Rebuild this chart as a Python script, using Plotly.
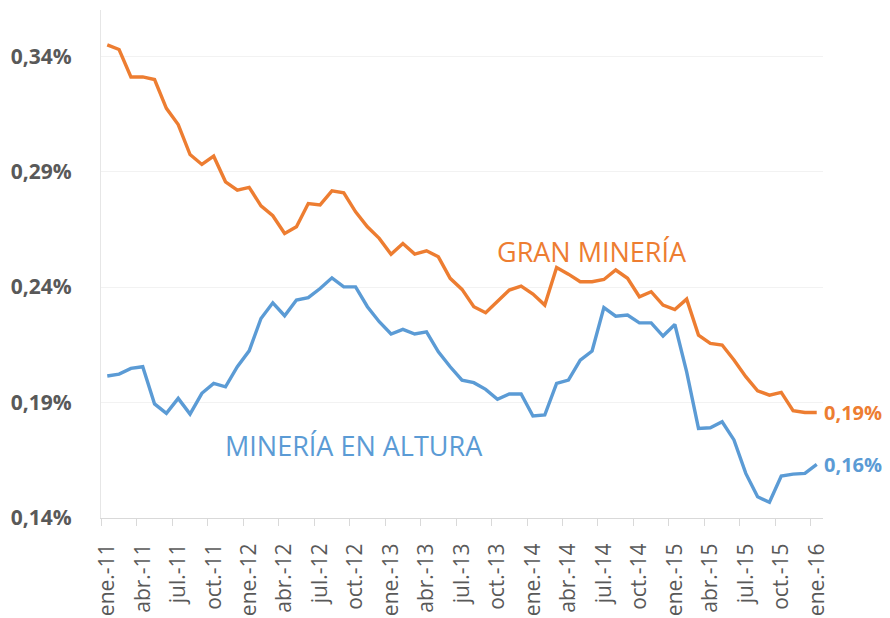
import plotly.graph_objects as go

months = ["ene.-11","feb.-11","mar.-11","abr.-11","may.-11","jun.-11","jul.-11","ago.-11","sep.-11","oct.-11","nov.-11","dic.-11",
          "ene.-12","feb.-12","mar.-12","abr.-12","may.-12","jun.-12","jul.-12","ago.-12","sep.-12","oct.-12","nov.-12","dic.-12",
          "ene.-13","feb.-13","mar.-13","abr.-13","may.-13","jun.-13","jul.-13","ago.-13","sep.-13","oct.-13","nov.-13","dic.-13",
          "ene.-14","feb.-14","mar.-14","abr.-14","may.-14","jun.-14","jul.-14","ago.-14","sep.-14","oct.-14","nov.-14","dic.-14",
          "ene.-15","feb.-15","mar.-15","abr.-15","may.-15","jun.-15","jul.-15","ago.-15","sep.-15","oct.-15","nov.-15","dic.-15",
          "ene.-16"]

gran_mineria = [0.3449, 0.3429, 0.3310, 0.3310, 0.3299, 0.3174, 0.3104, 0.2974, 0.2931, 0.2967, 0.2856, 0.2820,
                0.2832, 0.2752, 0.2709, 0.2632, 0.2661, 0.2762, 0.2756, 0.2817, 0.2808, 0.2726, 0.2661, 0.2611,
                0.2542, 0.2589, 0.2543, 0.2557, 0.2531, 0.2438, 0.2390, 0.2315, 0.2289, 0.2336, 0.2387, 0.2404,
                0.2370, 0.2322, 0.2485, 0.2456, 0.2423, 0.2423, 0.2433, 0.2474, 0.2438, 0.2358, 0.2380, 0.2322,
                0.2303, 0.2348, 0.2192, 0.2156, 0.2149, 0.2084, 0.2012, 0.1951, 0.1932, 0.1944, 0.1865, 0.1857,
                0.1857]

mineria_altura = [0.2015, 0.2023, 0.2048, 0.2055, 0.1894, 0.1853, 0.1918, 0.1850, 0.1940, 0.1983, 0.1968, 0.2055,
                  0.2124, 0.2264, 0.2332, 0.2276, 0.2344, 0.2354, 0.2394, 0.2440, 0.2401, 0.2401, 0.2315, 0.2250,
                  0.2197, 0.2217, 0.2197, 0.2206, 0.2120, 0.2055, 0.1997, 0.1986, 0.1957, 0.1914, 0.1937, 0.1937,
                  0.1842, 0.1846, 0.1983, 0.1997, 0.2084, 0.2123, 0.2311, 0.2274, 0.2279, 0.2245, 0.2245, 0.2188,
                  0.2238, 0.2033, 0.1788, 0.1791, 0.1817, 0.1738, 0.1593, 0.1492, 0.1468, 0.1582, 0.1590, 0.1593,
                  0.1632]

y_ticks = [0.14, 0.19, 0.24, 0.29, 0.34]
y_ticktext = ["0,14%", "0,19%", "0,24%", "0,29%", "0,34%"]

ORANGE = "#ED7D31"
BLUE = "#5B9BD5"
GRAY = "#595959"
FONT = "Open Sans"

idx = list(range(len(months)))
label_idx = idx[::3]

fig = go.Figure()
fig.add_trace(go.Scatter(x=idx, y=gran_mineria, mode="lines", line=dict(color=ORANGE, width=3.4),
                         name="GRAN MINERÍA", hoverinfo="skip"))
fig.add_trace(go.Scatter(x=idx, y=mineria_altura, mode="lines", line=dict(color=BLUE, width=3.4),
                         name="MINERÍA EN ALTURA", hoverinfo="skip"))

fig.add_annotation(x=idx[-1], y=gran_mineria[-1], text="<b>0,19%</b>", showarrow=False,
                   xanchor="left", yanchor="middle", xshift=5, font=dict(family=FONT, size=20, color=ORANGE))
fig.add_annotation(x=idx[-1], y=mineria_altura[-1], text="<b>0,16%</b>", showarrow=False,
                   xanchor="left", yanchor="middle", xshift=5, font=dict(family=FONT, size=20, color=BLUE))
fig.add_annotation(x=41, y=0.2555, text="GRAN MINERÍA", showarrow=False,
                   xanchor="center", yanchor="middle", font=dict(family=FONT, size=27, color=ORANGE))
fig.add_annotation(x=20.9, y=0.1715, text="MINERÍA EN ALTURA", showarrow=False,
                   xanchor="center", yanchor="middle", font=dict(family=FONT, size=27, color=BLUE))

# page body has an 8px default margin: size and margins compensate for it
fig.update_layout(
    width=882, height=610,
    margin=dict(l=93, r=67, t=2, b=100),
    paper_bgcolor="white", plot_bgcolor="white",
    showlegend=False,
    font=dict(family=FONT, color=GRAY),
)
fig.update_xaxes(
    range=[-0.53, 60.53], automargin=False,
    tickmode="array", tickvals=label_idx, ticktext=[months[i] for i in label_idx],
    tickangle=-90, ticks="", ticklabelstandoff=16,
    tickfont=dict(family=FONT, size=21, color=GRAY),
    showgrid=False, zeroline=False,
    showline=True, linecolor="#D9D9D9", linewidth=1,
    minor=dict(tickmode="array", tickvals=[i - 0.5 for i in label_idx], ticks="outside",
               ticklen=7, tickcolor="#D9D9D9", tickwidth=1, showgrid=False),
)
fig.update_yaxes(
    range=[0.14, 0.36], automargin=False,
    tickmode="array", tickvals=y_ticks, ticktext=[f"<b>{t}</b>" for t in y_ticktext],
    ticks="", ticklabelstandoff=24,
    tickfont=dict(family=FONT, size=21, color=GRAY),
    showgrid=True, gridcolor="#F2F2F2", gridwidth=1, zeroline=False,
    showline=True, linecolor="#E6E6E6", linewidth=1,
)

fig.write_html("out.html")
